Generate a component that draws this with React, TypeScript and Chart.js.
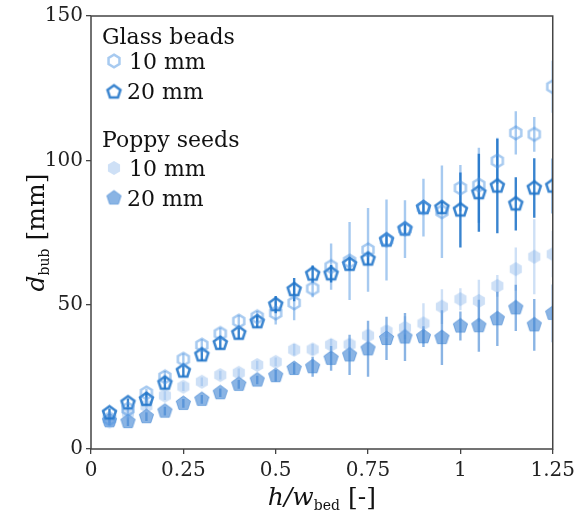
import React, { useEffect, useRef } from 'react';
import { Chart, registerables } from 'chart.js';

Chart.register(...registerables);

// Relative bed height h / w_bed
const hOverW = [0.05, 0.1, 0.15, 0.2, 0.25, 0.3, 0.35, 0.4, 0.45, 0.5, 0.55, 0.6, 0.65, 0.7, 0.75, 0.8, 0.85, 0.9, 0.95, 1.0, 1.05, 1.1, 1.15, 1.2, 1.25];

// Glass beads, 10 mm
const glass10 = [10.5, 13.8, 19.4, 25, 31.1, 36, 40, 44.3, 45.8, 47.1, 50.6, 55.6, 63.2, 65.1, 69, 72.4, 76.2, 83.6, 82.2, 90.4, 91.4, 99.8, 109.5, 109, 125.5];
const glass10Err = [1.5, 1.5, 1.5, 2, 2, 2, 2, 2, 2, 4, 6, 3, 8, 13.5, 14.5, 14, 10, 10, 16, 8, 13, 8, 7.5, 6, 9];

// Glass beads, 20 mm
const glass20 = [12.5, 16, 17.2, 22.8, 27, 32.6, 36.6, 40.1, 44.1, 50, 55.2, 60.6, 60.7, 64, 65.8, 72.4, 76.2, 83.6, 83.6, 82.8, 88.8, 91.1, 84.9, 90.4, 91.1];
const glass20Err = [1.5, 1.5, 2, 2, 2, 2, 2, 2, 2, 3, 4, 3, 3, 2, 2, 2, 2, 2, 2, 13, 13.5, 16.4, 9.2, 10.3, 9.5];

// Poppy seeds, 10 mm
const poppy10 = [9.5, 12.5, 14.9, 18.5, 21.6, 23.3, 25.6, 26.4, 29.1, 30.2, 34.4, 34.5, 36.1, 36.2, 39.3, 40.8, 42, 43.5, 49.3, 51.9, 51.3, 56.5, 62.3, 66.6, 67.5];
const poppy10Err = [1.5, 1.5, 1.5, 1.5, 1.5, 1.5, 1.5, 1.5, 1.5, 1.5, 2, 2, 2, 2, 2, 2, 4, 7, 6, 3.8, 7.3, 3.8, 7.5, 13, 8];

// Poppy seeds, 20 mm
const poppy20 = [9.8, 9.5, 11.2, 13.1, 15.8, 17.2, 19.5, 22.4, 23.9, 25.4, 27.9, 28.5, 31.4, 32.6, 34.7, 38.3, 38.8, 38.9, 38.6, 42.6, 42.7, 45.1, 48.9, 43, 47];
const poppy20Err = [1.5, 1.5, 1.5, 1.5, 1.5, 1.5, 1.5, 1.5, 1.5, 2, 2, 3.5, 4.3, 7, 9.7, 7.5, 8.3, 3.6, 9.5, 5, 9, 9.4, 8, 9, 10];

const xTickLabels = ['0', '0.25', '0.5', '0.75', '1', '1.25'];
const yTickLabels = ['0', '50', '100', '150'];

const SERIF = '"DejaVu Serif", serif';

const COL_GLASS10 = 'rgba(80,150,225,0.5)';
const COL_GLASS20 = 'rgba(30,115,200,0.88)';
const COL_POPPY10 = 'rgba(120,170,230,0.36)';
const COL_POPPY20 = 'rgba(60,130,210,0.6)';

function makeMarker(sides: number, radius: number, fill: string | null, stroke: string | null, lineWidth: number) {
  const pad = lineWidth + 2;
  const size = Math.ceil(2 * (radius + pad));
  const c = document.createElement('canvas');
  c.width = size;
  c.height = size;
  const ctx = c.getContext('2d')!;
  ctx.translate(size / 2, size / 2);
  ctx.beginPath();
  for (let i = 0; i < sides; i++) {
    const a = -Math.PI / 2 + (i * 2 * Math.PI) / sides;
    const px = radius * Math.cos(a);
    const py = radius * Math.sin(a);
    if (i === 0) ctx.moveTo(px, py);
    else ctx.lineTo(px, py);
  }
  ctx.closePath();
  if (fill) {
    ctx.fillStyle = fill;
    ctx.fill();
  }
  if (stroke) {
    ctx.strokeStyle = stroke;
    ctx.lineWidth = lineWidth;
    ctx.lineJoin = 'miter';
    ctx.stroke();
  }
  return c;
}

export default function App() {
  const canvasRef = useRef<HTMLCanvasElement | null>(null);

  useEffect(() => {
    const canvas = canvasRef.current;
    if (!canvas) return;

    const mGlass10 = makeMarker(6, 6.3, null, COL_GLASS10, 2.5);
    const mGlass20 = makeMarker(5, 6.8, null, COL_GLASS20, 2.5);
    const mPoppy10 = makeMarker(6, 7, COL_POPPY10, null, 0);
    const mPoppy20 = makeMarker(5, 7.5, COL_POPPY20, COL_POPPY20, 1);

    const series = [
      { label: 'Glass beads 10 mm', y: glass10, err: glass10Err, color: COL_GLASS10, marker: mGlass10 },
      { label: 'Glass beads 20 mm', y: glass20, err: glass20Err, color: COL_GLASS20, marker: mGlass20 },
      { label: 'Poppy seeds 10 mm', y: poppy10, err: poppy10Err, color: COL_POPPY10, marker: mPoppy10 },
      { label: 'Poppy seeds 20 mm', y: poppy20, err: poppy20Err, color: COL_POPPY20, marker: mPoppy20 },
    ];

    const errorBars = {
      id: 'errorBars',
      beforeDatasetsDraw(chart: any) {
        const { ctx, chartArea, scales } = chart;
        ctx.save();
        ctx.beginPath();
        ctx.rect(chartArea.left, chartArea.top, chartArea.right - chartArea.left, chartArea.bottom - chartArea.top);
        ctx.clip();
        ctx.lineWidth = 2.4;
        ctx.lineCap = 'butt';
        series.forEach((s) => {
          ctx.strokeStyle = s.color;
          hOverW.forEach((xv, i) => {
            const px = scales.x.getPixelForValue(xv);
            const y0 = scales.y.getPixelForValue(s.y[i] - s.err[i]);
            const y1 = scales.y.getPixelForValue(s.y[i] + s.err[i]);
            ctx.beginPath();
            ctx.moveTo(px, y0);
            ctx.lineTo(px, y1);
            ctx.stroke();
          });
        });
        ctx.restore();
      },
    };

    const decorations = {
      id: 'decorations',
      afterDraw(chart: any) {
        const { ctx, chartArea } = chart;
        ctx.save();
        // frame
        ctx.strokeStyle = '#444';
        ctx.lineWidth = 1.5;
        ctx.strokeRect(chartArea.left, chartArea.top, chartArea.right - chartArea.left, chartArea.bottom - chartArea.top);

        // legend
        ctx.fillStyle = '#111';
        ctx.textAlign = 'left';
        ctx.textBaseline = 'alphabetic';
        ctx.font = `22px ${SERIF}`;
        ctx.fillText('Glass beads', 102, 44);
        ctx.fillText('Poppy seeds', 102, 147);
        ctx.fillText('10 mm', 129, 69);
        ctx.fillText('20 mm', 127, 99);
        ctx.fillText('10 mm', 129, 176);
        ctx.fillText('20 mm', 127, 206);
        const lx = 114;
        [
          [mGlass10, 61],
          [mGlass20, 92],
          [mPoppy10, 168],
          [mPoppy20, 198],
        ].forEach(([m, y]: any) => {
          ctx.drawImage(m, lx - m.width / 2, y - m.height / 2);
        });

        // y-axis title: d_bub [mm]
        const big = `25px ${SERIF}`;
        const bigItalic = `italic 25px ${SERIF}`;
        const small = `14px ${SERIF}`;
        ctx.save();
        ctx.translate(44, (chartArea.top + chartArea.bottom) / 2);
        ctx.rotate(-Math.PI / 2);
        ctx.font = bigItalic;
        const wd = ctx.measureText('d').width;
        ctx.font = small;
        const wb = ctx.measureText('bub').width;
        ctx.font = big;
        const wm = ctx.measureText(' [mm]').width;
        let x0 = -(wd + wb + wm) / 2;
        ctx.font = bigItalic;
        ctx.fillText('d', x0, 0);
        x0 += wd;
        ctx.font = small;
        ctx.fillText('bub', x0, 5);
        x0 += wb;
        ctx.font = big;
        ctx.fillText(' [mm]', x0, 0);
        ctx.restore();

        // x-axis title: h/w_bed [-]
        ctx.font = bigItalic;
        const wh = ctx.measureText('h/w').width;
        ctx.font = small;
        const wbed = ctx.measureText('bed').width;
        ctx.font = big;
        const wdash = ctx.measureText(' [-]').width;
        let xx = (chartArea.left + chartArea.right) / 2 - (wh + wbed + wdash) / 2;
        const by = 505;
        ctx.font = bigItalic;
        ctx.fillText('h/w', xx, by);
        xx += wh;
        ctx.font = small;
        ctx.fillText('bed', xx, by + 5);
        xx += wbed;
        ctx.font = big;
        ctx.fillText(' [-]', xx, by);
        ctx.restore();
      },
    };

    const chart = new Chart(canvas, {
      type: 'scatter',
      data: {
        datasets: series.map((s) => ({
          label: s.label,
          data: hOverW.map((x, i) => ({ x, y: s.y[i] })),
          pointStyle: s.marker as any,
          pointRadius: 6,
          pointHoverRadius: 6,
          clip: 0,
          showLine: false,
        })),
      },
      options: {
        animation: false,
        responsive: false,
        events: [],
        layout: { padding: { top: 16, right: 22, left: 0, bottom: 0 } },
        plugins: {
          legend: { display: false },
          tooltip: { enabled: false },
          title: { display: false },
        },
        scales: {
          x: {
            type: 'linear',
            min: 0,
            max: 1.25,
            afterFit: (scale: any) => {
              scale.height = 77;
            },
            afterBuildTicks: (scale: any) => {
              scale.ticks = xTickLabels.map((t) => ({ value: parseFloat(t) }));
            },
            ticks: {
              callback: (_v: any, i: number) => xTickLabels[i],
              font: { family: SERIF, size: 20 },
              color: '#222',
              padding: 5,
              maxRotation: 0,
              autoSkip: false,
            },
            grid: { drawOnChartArea: false, drawTicks: true, tickLength: 5, color: '#444', lineWidth: 1.3 },
            border: { display: false },
          },
          y: {
            type: 'linear',
            min: 0,
            max: 150,
            afterFit: (scale: any) => {
              scale.width = 91;
            },
            afterBuildTicks: (scale: any) => {
              scale.ticks = yTickLabels.map((t) => ({ value: parseFloat(t) }));
            },
            ticks: {
              callback: (_v: any, i: number) => yTickLabels[i],
              font: { family: SERIF, size: 20 },
              color: '#222',
              padding: 3,
            },
            grid: { drawOnChartArea: false, drawTicks: true, tickLength: 5, color: '#444', lineWidth: 1.3 },
            border: { display: false },
          },
        },
      },
      plugins: [errorBars, decorations],
    });

    return () => chart.destroy();
  }, []);

  return (
    <div style={{ position: 'absolute', left: 0, top: 0, width: 580, height: 526, background: '#fff' }}>
      <canvas ref={canvasRef} width={580} height={526} style={{ display: 'block' }} />
    </div>
  );
}
